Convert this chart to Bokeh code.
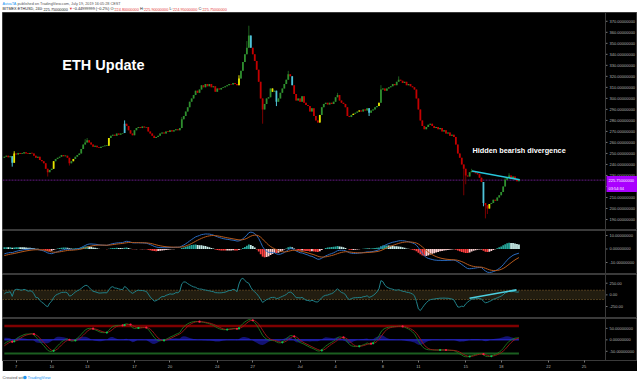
import numpy as np
import pandas as pd
from bokeh.plotting import figure
from bokeh.layouts import column
from bokeh.models import Range1d, FixedTicker, BoxAnnotation, Span
from bokeh.core.properties import value
from bokeh.embed import file_html
from bokeh.resources import INLINE

# ---------------- data (4H candles, BITMEX:ETHUSD, Jun 6 00:00 -> Jul 19 12:00) -------------
warmup_close = [266, 268, 265, 267, 264, 262, 263, 265, 268, 266, 262, 258,
                255, 252, 250, 248, 245, 243, 240, 236, 238, 240, 242, 241,
                243, 245, 244, 246, 247, 246]
close = [
    247, 248, 246.5, 247.5, 241.5, 250, 249, 250.5, 249.5, 250,
    251, 250, 249.5, 250.5, 250, 248, 246, 247, 244, 243,
    241, 236, 233, 235, 236, 243, 245, 246, 247, 248.5,
    247.5, 248, 246, 241, 243, 245, 247, 248.5, 250, 254,
    258, 260, 262, 260, 258, 256, 257, 255.5, 255, 256,
    256.5, 257, 257, 264, 266, 267, 266, 268, 267, 268,
    268.5, 277, 275, 271, 268, 266.5, 271, 273, 274, 273,
    274.5, 273.5, 274, 270, 268, 266, 264, 265, 266, 268,
    269, 268, 270, 269.5, 271, 270, 271, 272, 271, 273,
    281, 284, 288, 292, 297, 300, 303, 307, 305, 308,
    312, 310, 313, 311, 313, 310, 311, 306, 309, 308,
    309.5, 310, 311, 312, 313, 312.5, 314, 313, 312, 318,
    325, 333, 340, 346, 357, 346, 340, 334, 326, 315,
    300, 290, 295, 300, 301, 309, 306, 307, 297, 300,
    305, 309, 313, 317, 322, 320, 312, 304, 298, 300,
    297, 302, 296, 294, 293, 288, 291, 284, 280, 278,
    285, 292, 295, 296, 294.5, 296, 295, 297, 301, 303,
    298, 296, 295, 292, 284, 283, 285, 286, 287, 288,
    289, 288, 290, 289, 291, 287, 289, 290, 292, 293,
    296, 308, 309, 307, 309, 310, 311, 313, 312, 315,
    317, 316, 314, 315, 312, 313, 311, 310, 308, 300,
    290, 280, 275, 272, 274, 276, 277, 275, 273, 274,
    272, 273, 270, 271, 268, 269, 266, 267, 265, 258,
    250, 246, 240, 236, 230, 229, 233, 234, 233, 232,
    231, 228, 224, 205, 203, 200, 204, 205, 208, 207,
    210, 212, 215, 220, 226, 228, 230, 227, 229, 226,
    224.8, 225.75]
high_wick = {5: 252, 41: 263, 42: 264, 61: 280, 90: 283, 119: 321, 123: 352, 124: 366,
             144: 325, 169: 305, 191: 312, 200: 320, 237: 236, 254: 228, 256: 232}
low_wick = {4: 238, 22: 229, 33: 239, 131: 277, 138: 293, 185: 284, 233: 212,
            234: 222, 243: 202, 244: 191, 245: 195}
yellow_idx = [5, 25, 35, 53, 119, 136, 160, 177, 180, 190, 246]
cyan_idx = [4, 61, 125, 138, 146, 185, 243]

start_day = 5.0            # Jun 1 = day 0 -> first bar Jun 6 00:00
bars_per_day = 6
tick_days = [6, 9, 12, 16, 19, 23, 26, 30, 33, 37, 40, 44, 47, 51, 54]
tick_labels = ["7", "10", "13", "17", "20", "24", "27", "Jul", "4", "8", "11", "15", "18", "22", "25"]
price_ticks = list(range(190, 380, 10))
macd_ticks = [-10, 0, 10]
cci_ticks = [-250, 0, 250]
wt_ticks = [-50, 0, 50]
last_price = 225.75
countdown = "03:54:34"
price_trend_x = [44.53, 48.57]
price_trend_y = [234.0, 226.1]
cci_trend_x = [44.32, 48.29]
cci_trend_y = [-73, 107]

# ---------------- derived series ----------------
n = len(close)
days = np.array([start_day + i / bars_per_day for i in range(n)])
c = np.array(close, dtype=float)
o = np.array([warmup_close[-1]] + close[:-1], dtype=float)
hi = np.maximum(o, c)
lo = np.minimum(o, c)
for k, v in high_wick.items():
    hi[k] = max(hi[k], v)
for k, v in low_wick.items():
    lo[k] = min(lo[k], v)

UP, DN = "#2f8f2f", "#c40000"
UPW, DNW = "#1d5c1d", "#7a0000"
YEL, CYA = "#e6e600", "#4fc3d9"
body_col = np.where(c >= o, UP, DN).astype(object)
wick_col = np.where(c >= o, UPW, DNW).astype(object)
for k in yellow_idx:
    body_col[k] = YEL
    wick_col[k] = YEL
for k in cyan_idx:
    body_col[k] = CYA
    wick_col[k] = CYA
btop = np.maximum(o, c)
bbot = np.minimum(o, c)
btop = np.where(btop - bbot < 0.6, bbot + 0.6, btop)

# indicators (computed from the full series including warm-up history)
w = len(warmup_close)
fc = pd.Series(warmup_close + close, dtype=float)
fh = pd.Series(list(warmup_close) + list(hi), dtype=float)
fl = pd.Series(list(warmup_close) + list(lo), dtype=float)
hlc3 = (fc + fh + fl) / 3

ema = lambda s, n_: s.ewm(span=n_, adjust=False).mean()
macd = ema(fc, 12) - ema(fc, 26)
signal = ema(macd, 9)
hist = macd - signal

sma20 = hlc3.rolling(20, min_periods=1).mean()
md20 = hlc3.rolling(20, min_periods=1).apply(lambda x: np.mean(np.abs(x - x.mean())), raw=True)
cci = (hlc3 - sma20) / (0.015 * md20.replace(0, np.nan))

esa = ema(hlc3, 10)
dd = ema((hlc3 - esa).abs(), 10)
ci = (hlc3 - esa) / (0.015 * dd.replace(0, np.nan))
wt1 = ema(ci.fillna(0), 21)
wt2 = wt1.rolling(4, min_periods=1).mean()

macd_m = macd.values[w:]
sig_m = signal.values[w:]
hist_m = hist.values[w:]
hist_prev = hist.values[w - 1:-1]
cci_m = cci.values[w:]
wt1_m = wt1.values[w:]
wt2_m = wt2.values[w:]

hist_col = []
for h, hp in zip(hist_m, hist_prev):
    if h >= 0:
        hist_col.append("#26a69a" if h >= hp else "#c8ece8")
    else:
        hist_col.append("#ff4040" if h <= hp else "#ffd0d0")

diff = wt1_m - wt2_m
cross_x, cross_y, cross_c = [], [], []
for i in range(1, n):
    if np.sign(diff[i]) != np.sign(diff[i - 1]):
        cross_x.append(days[i])
        cross_y.append(wt2_m[i])
        cross_c.append("#00c853" if diff[i] > 0 else "#ff1744")

# ---------------- styling / geometry ----------------
FONT = "Liberation Sans"
BG = "#000000"
SEP = "#3a3a3a"
AXT = "#b4b4b4"
PPD = 11.83                      # pixels per day
X0 = 4.844                       # day at left edge of the chart area
D_SEP = X0 + 603 / PPD           # price-scale separator
xr = Range1d(X0, X0 + 635 / PPD)


def pane(frame_h, yr, ticks, fmt, bottom_axis=False):
    p = figure(width=635, height=frame_h + (9 if bottom_axis else 0), x_range=xr,
               y_range=Range1d(*yr), output_backend="svg", toolbar_location=None,
               y_axis_location=None, x_axis_location="below" if bottom_axis else None,
               min_border_left=0, min_border_right=0, min_border_top=0,
               min_border_bottom=9 if bottom_axis else 0,
               background_fill_color=BG, border_fill_color=BG,
               outline_line_color=SEP, outline_line_width=1, margin=(0, 3, 0, 2))
    p.xgrid.visible = False
    p.ygrid.visible = False
    # price scale on the right
    p.add_layout(Span(location=D_SEP, dimension="height", line_color=SEP, line_width=1))
    nt = len(ticks)
    p.segment(x0=[D_SEP] * nt, x1=[D_SEP + 2 / PPD] * nt, y0=ticks, y1=ticks,
              line_color="#777777", line_width=1)
    p.text(x=[D_SEP + 4 / PPD] * nt, y=ticks, text=[fmt % t for t in ticks],
           text_color=AXT, text_font=value(FONT), text_font_size="4px",
           text_baseline="middle", text_align="left")
    if bottom_axis:
        xa = p.xaxis[0]
        xa.ticker = FixedTicker(ticks=tick_days)
        xa.major_label_overrides = {d: t for d, t in zip(tick_days, tick_labels)}
        xa.major_label_text_font_size = "4px"
        xa.major_label_text_font = FONT
        xa.major_label_text_color = AXT
        xa.major_tick_out = 2
        xa.major_tick_in = 0
        xa.minor_tick_out = 0
        xa.minor_tick_in = 0
        xa.major_tick_line_color = "#777777"
        xa.axis_line_color = SEP
        xa.major_label_standoff = 1
    return p


# ---- header ----
hdr = figure(width=640, height=12, x_range=Range1d(0, 640), y_range=Range1d(12, 0),
             output_backend="svg", toolbar_location=None, x_axis_location=None,
             y_axis_location=None, min_border=0, background_fill_color="white",
             border_fill_color="white", outline_line_color=None)
hdr.xgrid.visible = False
hdr.ygrid.visible = False
h_x = [2, 17, 2, 43, 68.5, 72, 110, 114, 139.5, 143.5, 169, 172.5, 198, 202]
h_y = [3.2, 3.2, 8.6, 8.6, 8.6, 8.6, 8.6, 8.6, 8.6, 8.6, 8.6, 8.6, 8.6, 8.6]
h_t = ["AvivaTA", "published on TradingView.com, July 19, 2019 16:05:28 CEST",
       "BITMEX:ETHUSD, 240:", "225.75000000", "\u25bc", "\u22120.44999999 (\u22120.2%)",
       "O:", "224.80000000", "H:", "225.90000000", "L:", "224.95000000", "C:", "225.75000000"]
h_c = ["#2196f3", "#555555", "#222222", "#222222", "#e53935", "#222222",
       "#222222", "#e53935", "#222222", "#e53935", "#222222", "#e53935", "#222222", "#e53935"]
hdr.text(x=h_x, y=h_y, text=h_t, text_color=h_c, text_font=value(FONT),
         text_font_size="3.8px", text_baseline="middle", text_align="left")

# ---- main price pane ----
pm = pane(218, (180, 378), price_ticks, "%.8f")
pm.segment(x0=[X0], y0=[last_price], x1=[D_SEP], y1=[last_price], line_color="#7b1fa2",
           line_alpha=0.8, line_width=1, line_dash="2 1")
pm.segment(x0=days, y0=lo, x1=days, y1=hi, line_color=list(wick_col), line_width=1)
pm.vbar(x=days, top=btop, bottom=bbot, width=0.15, fill_color=list(body_col), line_color=None)
pm.line(x=price_trend_x, y=price_trend_y, line_color="#26c6da", line_width=1.6)
pm.text(x=[9.9], y=[330], text=["ETH Update"], text_color="white",
        text_font=value(FONT), text_font_style="bold", text_font_size="14.5px",
        text_baseline="middle")
pm.text(x=[44.57], y=[252.7], text=["Hidden bearish divergence"], text_color="white",
        text_font=value(FONT), text_font_style="bold", text_font_size="7.3px",
        text_baseline="middle")
# last-price tag and bar countdown on the price scale
tag_l, tag_r = D_SEP + 1 / PPD, D_SEP + 32 / PPD
pm.quad(left=[tag_l, tag_l], right=[tag_r, tag_r],
        top=[last_price + 3.8, last_price - 4.4], bottom=[last_price - 4.4, last_price - 10.8],
        fill_color="#aa00ff", line_color=None)
pm.text(x=[D_SEP + 3 / PPD, D_SEP + 3 / PPD], y=[last_price - 0.3, last_price - 7.6],
        text=[f"{last_price:.8f}", countdown], text_color="white", text_font=value(FONT),
        text_font_size="4px", text_baseline="middle", text_align="left")

# ---- MACD pane ----
pmacd = pane(44, (-18.9, 13.7), macd_ticks, "%.8f")
pmacd.vbar(x=days, top=hist_m, bottom=0, width=0.15, fill_color=hist_col, line_color=None)
pmacd.line(days, macd_m, line_color="#2a6bc0", line_width=1)
pmacd.line(days, sig_m, line_color="#b85a1c", line_width=1)

# ---- CCI pane ----
pcci = pane(44, (-507, 437), cci_ticks, "%.2f")
pcci.add_layout(BoxAnnotation(left=X0, right=D_SEP, bottom=-100, top=100, fill_color="#221d10",
                              fill_alpha=1, line_color=None, level="underlay"))
pcci.segment(x0=[X0, X0], x1=[D_SEP, D_SEP], y0=[-100, 100], y1=[-100, 100],
             line_color="#8a6a35", line_width=1, line_dash="1 2")
pcci.line(days, cci_m, line_color="#218088", line_width=1)
pcci.line(x=cci_trend_x, y=cci_trend_y, line_color="#4dd0e1", line_width=1.6)

# ---- WaveTrend pane ----
pwt = pane(44, (-90, 93), wt_ticks, "%.8f", bottom_axis=True)
pwt.varea(x=days, y1=np.zeros(n), y2=diff, fill_color="#2a2aff", fill_alpha=0.45)
pwt.line(x=[days[0], days[-1]], y=[60, 60], line_color="#7f0000", line_width=2.5)
pwt.line(x=[days[0], days[-1]], y=[-60, -60], line_color="#1b5e20", line_width=2)
pwt.line(x=[days[0], days[-1]], y=[0, 0], line_color="#3030ee", line_width=1)
pwt.line(days, wt1_m, line_color="#1e7a1e", line_width=0.9)
pwt.line(days, wt2_m, line_color="#a01818", line_width=0.9)
pwt.scatter(x=cross_x, y=cross_y, size=2.2, fill_color=cross_c, line_color=None)

# ---- footer ----
ftr = figure(width=640, height=12, x_range=Range1d(0, 640), y_range=Range1d(12, 0),
             output_backend="svg", toolbar_location=None, x_axis_location=None,
             y_axis_location=None, min_border=0, background_fill_color="white",
             border_fill_color="white", outline_line_color=None)
ftr.xgrid.visible = False
ftr.ygrid.visible = False
ftr.text(x=[2, 27], y=[6, 6], text=["Created with", "TradingView"],
         text_color=["#555555", "#2196f3"], text_font=value(FONT), text_font_size="4.2px",
         text_baseline="middle", text_align="left")
ftr.scatter(x=[24.5], y=[6], size=3.5, fill_color="#2196f3", line_color=None)

layout = column(hdr, pm, pmacd, pcci, pwt, ftr, spacing=0)

open("out.html", "w").write(file_html(layout, INLINE))
